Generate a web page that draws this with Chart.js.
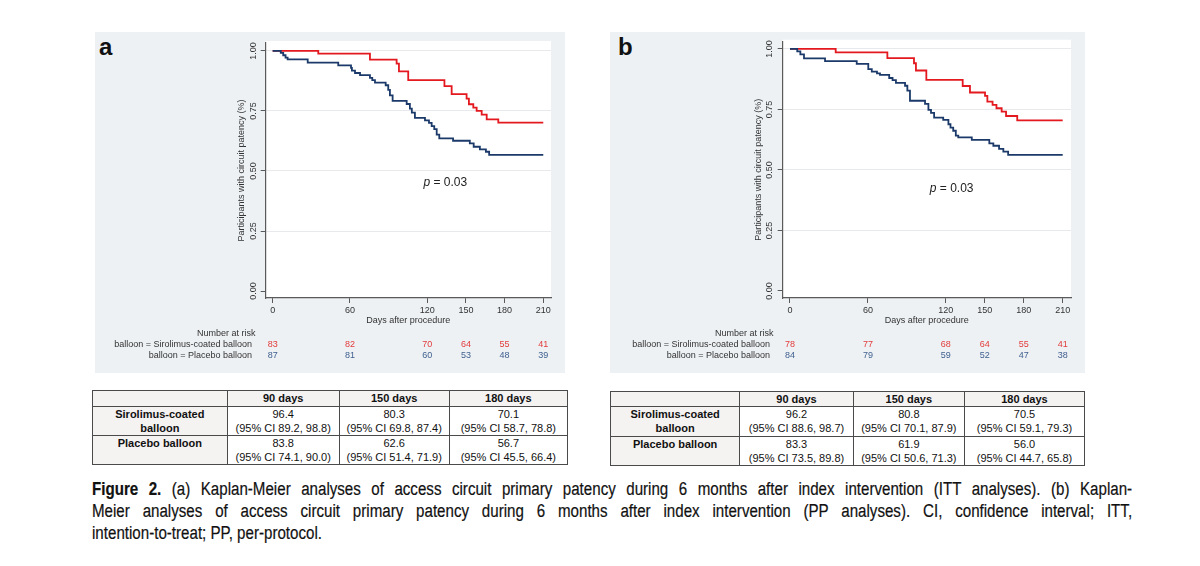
<!DOCTYPE html>
<html>
<head>
<meta charset="utf-8">
<script src="https://cdn.jsdelivr.net/npm/chart.js@4/dist/chart.umd.min.js"></script>
<style>
  body { margin: 0; background: #fff; width: 1200px; height: 566px; position: relative; overflow: hidden;
         font-family: "Liberation Sans", Arial, sans-serif; }
  .panel { position: absolute; background: #edf1f4; }
  .plabel { position: absolute; font-weight: bold; font-size: 24px; line-height: 1; color: #111; }
  canvas { position: absolute; }
  table.res { position: absolute; border-collapse: collapse; table-layout: fixed; font-size: 11px; color: #111; }
  table.res td { border: 1.5px solid #4a4a4a; padding: 0; text-align: center; vertical-align: top; line-height: 14px; }
  table.res tr.hd td { font-weight: bold; vertical-align: middle; background: #f5f2f2; }
  table.res td.rn { font-weight: bold; background: #f5f2f2; }
  .cap { position: absolute; left: 92px; font-size: 18px; line-height: 22px; color: #111; white-space: nowrap;
         transform: scaleX(0.84); transform-origin: 0 0; -webkit-text-stroke: 0.2px #111; }
</style>
</head>
<body>
<div class="panel" style="left:95px;top:32px;width:470px;height:341px"></div>
<div class="panel" style="left:610px;top:32px;width:475px;height:341px"></div>
<div class="plabel" style="left:99px;top:34.7px">a</div>
<div class="plabel" style="left:618px;top:34.7px">b</div>
<canvas id="kmA" width="470" height="341" style="left:95px;top:32px"></canvas>
<canvas id="kmB" width="475" height="341" style="left:610px;top:32px"></canvas>
<table class="res" id="tabA" style="left:92px;top:390px;width:475px"></table>
<table class="res" id="tabB" style="left:610px;top:390.7px;width:474px"></table>
<div class="cap j" style="top:478px"><b>Figure 2.</b> (a) Kaplan-Meier analyses of access circuit primary patency during 6 months after index intervention (ITT analyses). (b) Kaplan-</div>
<div class="cap j" style="top:500px">Meier analyses of access circuit primary patency during 6 months after index intervention (PP analyses). CI, confidence interval; ITT,</div>
<div class="cap" style="top:522px">intention-to-treat; PP, per-protocol.</div>
<script>
// ticks
var xTicks = [0, 60, 120, 150, 180, 210];
var yTicks = [0, 0.25, 0.5, 0.75, 1];

// panel a (ITT) step curves
var aSiroDays = [0, 35.4, 75.5, 96.2, 98, 105.2, 133.3, 138.9, 150.5, 152.3, 155.7, 158.3, 162.2, 166.1, 175.1, 210];
var aSiroSurv = [1, .989, .964, .947, .915, .878, .853, .82, .801, .778, .764, .75, .735, .715, .701, .701];
var aPlacDays = [0, 6.3, 8.2, 10, 11.6, 27.2, 50.9, 60.8, 61.5, 63.9, 67.8, 75.5, 77.3, 79.4, 87.7, 89.7, 91, 93.1,
                 104, 106.5, 108, 110.4, 118.2, 121.3, 123.4, 125.4, 127.3, 129.3, 140, 153, 156, 160.8, 165.5, 168, 210];
var aPlacSurv = [1, .992, .982, .972, .965, .951, .94, .929, .918, .908, .899, .888, .878, .868, .857, .838, .815, .792,
                 .779, .76, .743, .721, .711, .70, .687, .674, .651, .636, .626, .615, .601, .59, .58, .567, .567];

// panel b (PP)
var bSiroDays = [0, 35.2, 75, 95.5, 97, 105, 133, 138.6, 150.2, 152, 156, 159, 163, 166.4, 175, 210];
var bSiroSurv = [1, .986, .962, .941, .911, .872, .847, .82, .806, .782, .769, .755, .741, .723, .705, .705];
var bPlacDays = [0, 5.6, 8, 10.8, 27, 51.4, 60.3, 63, 67, 69.3, 76.4, 79, 81.6, 88.6, 90.4, 92.4, 104, 106.6, 108.6,
                 111, 118, 122, 123.6, 125.7, 127.7, 129.6, 140, 153.5, 156.6, 161, 164.3, 168, 210];
var bPlacSurv = [1, .99, .978, .961, .95, .938, .917, .906, .899, .893, .88, .871, .86, .848, .828, .786, .773, .748, .736,
                 .716, .707, .689, .675, .662, .642, .635, .624, .61, .60, .587, .576, .562, .562];

// number at risk
var riskDays = [0, 60, 120, 150, 180, 210];
var aRiskSiro = [83, 82, 70, 64, 55, 41];
var aRiskPlac = [87, 81, 60, 53, 48, 39];
var bRiskSiro = [78, 77, 68, 64, 55, 41];
var bRiskPlac = [84, 79, 59, 52, 47, 38];

// result tables
var tableCols = ['90 days', '150 days', '180 days'];
var aSiroVals = ['96.4', '80.3', '70.1'];
var aSiroCI = ['89.2, 98.8', '69.8, 87.4', '58.7, 78.8'];
var aPlacVals = ['83.8', '62.6', '56.7'];
var aPlacCI = ['74.1, 90.0', '51.4, 71.9', '45.5, 66.4'];
var bSiroVals = ['96.2', '80.8', '70.5'];
var bSiroCI = ['88.6, 98.7', '70.1, 87.9', '59.1, 79.3'];
var bPlacVals = ['83.3', '61.9', '56.0'];
var bPlacCI = ['73.5, 89.8', '50.6, 71.3', '44.7, 65.8'];

var FONT = '"Liberation Sans", Arial, sans-serif';
var RED = '#e4181f', BLUE = '#1b3a6a';
Chart.defaults.font.family = FONT;
Chart.defaults.font.size = 9;
Chart.defaults.color = '#333';

function steps(days, surv) {
	return days.map(function (d, i) { return { x: d, y: surv[i] }; });
}

var kmExtras = {
	id: 'kmExtras',
	beforeDraw: function (chart) {
		var a = chart.chartArea, ctx = chart.ctx;
		ctx.save();
		ctx.fillStyle = '#fff';
		ctx.fillRect(a.left, a.top - 2, a.right - a.left, a.bottom - a.top + 2);
		ctx.restore();
	},
	afterDraw: function (chart, args, o) {
		var ctx = chart.ctx, x = chart.scales.x, y = chart.scales.y;
		ctx.save();
		// rotated y tick labels
		ctx.font = '9px ' + FONT;
		ctx.fillStyle = '#333';
		ctx.textAlign = 'center';
		ctx.textBaseline = 'middle';
		y.ticks.forEach(function (t) {
			ctx.save();
			ctx.translate(o.yLabelX, y.getPixelForValue(t.value));
			ctx.rotate(-Math.PI / 2);
			ctx.fillText(t.value.toFixed(2), 0, 0);
			ctx.restore();
		});
		// p value
		var px = x.getPixelForValue(o.pAt[0]), py = y.getPixelForValue(o.pAt[1]);
		ctx.font = 'italic 12px ' + FONT;
		var w1 = ctx.measureText('p').width;
		ctx.font = '12px ' + FONT;
		var w2 = ctx.measureText(' = 0.03').width;
		ctx.textAlign = 'left';
		ctx.fillStyle = '#222';
		ctx.font = 'italic 12px ' + FONT;
		ctx.fillText('p', px - (w1 + w2) / 2, py);
		ctx.font = '12px ' + FONT;
		ctx.fillText(' = 0.03', px - (w1 + w2) / 2 + w1, py);
		// number at risk
		ctx.font = '9px ' + FONT;
		ctx.fillStyle = '#333';
		ctx.textAlign = 'right';
		ctx.fillText('Number at risk', o.riskLabelX + 3.5, o.riskY[0]);
		ctx.fillText('balloon = Sirolimus-coated balloon', o.riskLabelX, o.riskY[1]);
		ctx.fillText('balloon = Placebo balloon', o.riskLabelX, o.riskY[2]);
		ctx.textAlign = 'center';
		riskDays.forEach(function (d, i) {
			var rx = x.getPixelForValue(d);
			ctx.fillStyle = '#e33b3b';
			ctx.fillText(String(o.siro[i]), rx, o.riskY[1]);
			ctx.fillStyle = '#3f5f8e';
			ctx.fillText(String(o.plac[i]), rx, o.riskY[2]);
		});
		ctx.restore();
	}
};

function makeKM(id, siro, plac, s) {
	new Chart(document.getElementById(id), {
		type: 'line',
		data: {
			datasets: [
				{ data: plac, borderColor: BLUE, borderWidth: 1.8, stepped: true, pointRadius: 0, fill: false },
				{ data: siro, borderColor: RED, borderWidth: 1.8, stepped: true, pointRadius: 0, fill: false }
			]
		},
		options: {
			responsive: false,
			animation: false,
			layout: { padding: { left: 0, right: 14, top: s.top, bottom: 45 } },
			plugins: { legend: { display: false }, tooltip: { enabled: false }, kmExtras: s.extras },
			scales: {
				x: {
					type: 'linear', min: s.xMin, max: s.xMax,
					afterBuildTicks: function (sc) { sc.ticks = xTicks.map(function (v) { return { value: v }; }); },
					afterFit: function (sc) { sc.height = 30; },
					border: { display: true, color: '#5a5a5a', width: 1.2 },
					grid: { drawOnChartArea: false, drawTicks: true, tickLength: 5, tickColor: '#5a5a5a' },
					ticks: { padding: 2, color: '#333' },
					title: { display: true, text: 'Days after procedure', color: '#333',
					         font: { size: 9, lineHeight: 1.2 }, padding: { top: 0, bottom: 1.6 } }
				},
				y: {
					type: 'linear', min: s.yMin, max: s.yMax,
					afterBuildTicks: function (sc) { sc.ticks = yTicks.map(function (v) { return { value: v }; }); },
					afterFit: function (sc) { sc.width = s.yWidth; },
					border: { display: true, color: '#5a5a5a', width: 1.2 },
					grid: {
						color: function (c) { return c.tick && c.tick.value === 0 ? 'rgba(0,0,0,0)' : '#e7e9ec'; },
						tickLength: 5, tickColor: '#5a5a5a', lineWidth: 1
					},
					ticks: { display: false },
					title: { display: true, text: 'Participants with circuit patency (%)', color: '#333',
					         font: { size: 9, lineHeight: 1.2 }, padding: { top: s.yTitlePad, bottom: 0 } }
				}
			}
		},
		plugins: [kmExtras]
	});
}

makeKM('kmA', steps(aSiroDays, aSiroSurv), steps(aPlacDays, aPlacSurv), {
	top: 11, xMin: -5.4, xMax: 216, yMin: -0.029, yMax: 1.033, yWidth: 170.7, yTitlePad: 141.6,
	extras: { yLabelX: 158.5, pAt: [134, 0.45], riskLabelX: 157, riskY: [302, 313, 324], siro: aRiskSiro, plac: aRiskPlac }
});
makeKM('kmB', steps(bSiroDays, bSiroSurv), steps(bPlacDays, bPlacSurv), {
	top: 9.7, xMin: -5.6, xMax: 216.4, yMin: -0.029, yMax: 1.030, yWidth: 172.7, yTitlePad: 143.6,
	extras: { yLabelX: 160, pAt: [124.5, 0.421], riskLabelX: 160, riskY: [302, 313, 324], siro: bRiskSiro, plac: bRiskPlac }
});

function buildTable(id, colW, rowH, siroV, siroC, placV, placC) {
	var t = document.getElementById(id);
	var h = '<colgroup>' + colW.map(function (w) { return '<col style="width:' + w + 'px">'; }).join('') + '</colgroup>';
	h += '<tr class="hd" style="height:' + rowH[0] + 'px"><td class="rn"></td>' +
		tableCols.map(function (c) { return '<td>' + c + '</td>'; }).join('') + '</tr>';
	h += '<tr style="height:' + rowH[1] + 'px"><td class="rn">Sirolimus-coated<br>balloon</td>' +
		siroV.map(function (v, i) { return '<td>' + v + '<br>(95% CI ' + siroC[i] + ')</td>'; }).join('') + '</tr>';
	h += '<tr style="height:' + rowH[2] + 'px"><td class="rn">Placebo balloon</td>' +
		placV.map(function (v, i) { return '<td>' + v + '<br>(95% CI ' + placC[i] + ')</td>'; }).join('') + '</tr>';
	t.innerHTML = h;
}
buildTable('tabA', [134.7, 112, 110, 118.3], [15.7, 28.6, 28.7], aSiroVals, aSiroCI, aPlacVals, aPlacCI);
buildTable('tabB', [129.3, 113.4, 111.3, 120], [15.3, 29.7, 28.6], bSiroVals, bSiroCI, bPlacVals, bPlacCI);

// justify the first two caption lines to the full width through word spacing
var capW = 1040, capScale = 0.84;
document.querySelectorAll('.cap.j').forEach(function (el) {
	var natural = el.scrollWidth;
	var gaps = (el.textContent.match(/ /g) || []).length;
	var extra = (capW / capScale - natural) / gaps;
	el.style.wordSpacing = Math.max(0, extra) + 'px';
});
</script>
</body>
</html>
